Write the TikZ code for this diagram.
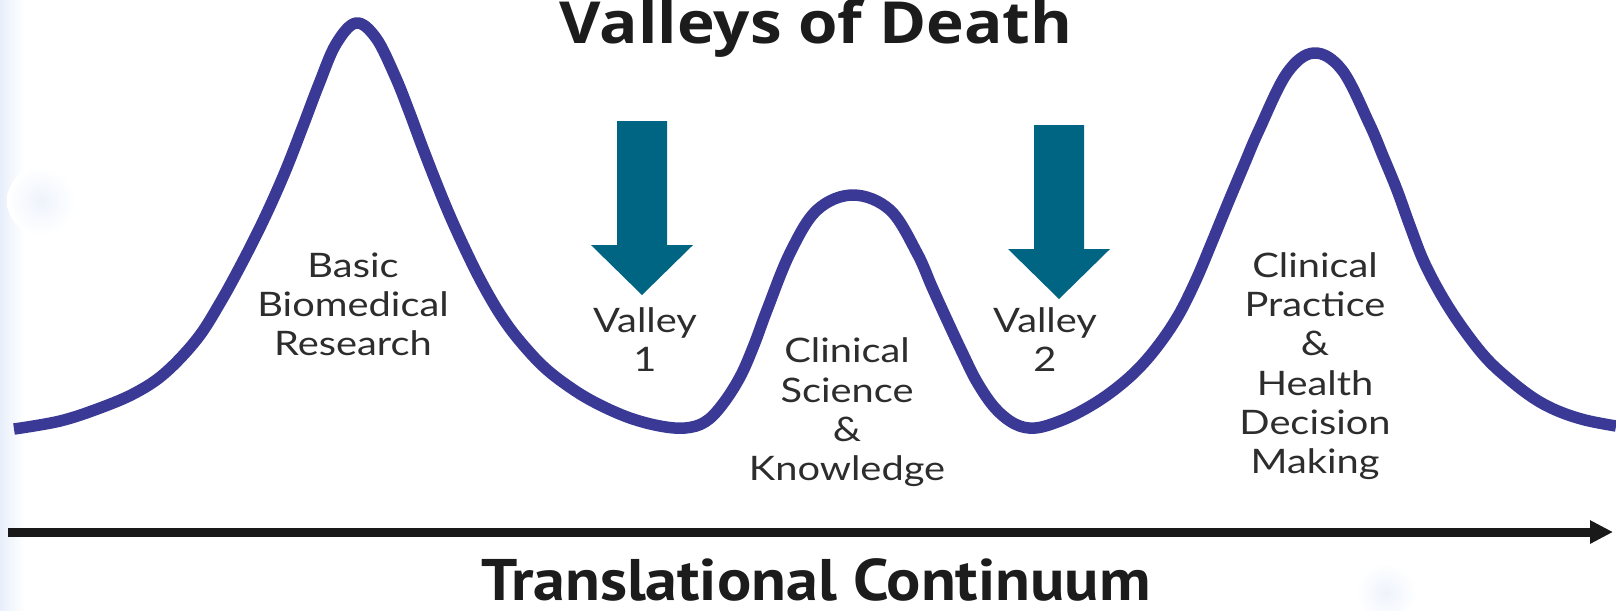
\documentclass[tikz,border=0pt]{standalone}
\usepackage{fontspec}
\setmainfont{Lato}
\newfontfamily\titlefont{Open Sans}
\newfontfamily\axisfont{PT Sans}
\usetikzlibrary{arrows.meta}
\definecolor{curveblue}{RGB}{58,58,150}
\definecolor{valleyteal}{RGB}{0,100,131}
\definecolor{labelgray}{RGB}{45,45,45}
\definecolor{edgeblue}{RGB}{232,239,251}
\definecolor{blobblue}{RGB}{238,243,252}
\tikzset{>={Triangle[length=2.3mm,width=2.2mm]},
  peaklabel/.style={font=\fontsize{9.6}{11.1}\selectfont,text=labelgray,
    align=center,anchor=base,inner sep=0pt,xscale=1.18},
  valley arrow/.style={fill=valleyteal},
  hills/.style={draw=curveblue,line width=1.15mm,line join=round}}

\begin{document}
\begin{tikzpicture}[x=0.1mm,y=-0.1mm]
\useasboundingbox (0,0) rectangle (1616,610);
% faint background
\shade[left color=edgeblue,right color=white] (0,0) rectangle (24,610);
\shade[inner color=blobblue,outer color=white] (41,201) circle (34);
\shade[inner color=blobblue,outer color=white] (1386,593) circle (30);
% the three hills
\draw[hills] plot[smooth,tension=0.6] coordinates {
  (14,429) (60,421) (100,408) (135,393) (165,373) (197,339) (220,303)
  (243,261) (265,217) (285,172) (303,126) (319,84) (336,44) (356,23)
  (376,38) (395,76) (409,111) (422,146) (436,182) (450,216) (466,251)
  (482,283) (500,314) (519,340) (545,368) (574,390) (600,405)
  (630,418) (660,426) (685,428) (705,422) (722,405) (740,377)
  (754,345) (767,310) (790,253) (817,210) (853,195) (890,210) (917,253)
  (932,287) (947,320) (962,352) (977,382) (995,408) (1015,424)
  (1035,428) (1060,421) (1085,409) (1110,393) (1135,372) (1157,347)
  (1178,316) (1196,280) (1212,242) (1228,203) (1244,165) (1259,130)
  (1287,73) (1314,53) (1342,70) (1369,123) (1383,156) (1397,190)
  (1410,226) (1424,262) (1443,298) (1464,330) (1487,359) (1511,381)
  (1535,399) (1558,411) (1585,420) (1616,426)};
% valley arrows
\foreach \x/\y in {642/121,1059/125}
  \fill[valley arrow] (\x-25,\y) -- (\x+25,\y) -- (\x+25,\y+124)
    -- (\x+51,\y+124) -- (\x,\y+174) -- (\x-51,\y+124)
    -- (\x-25,\y+124) -- cycle;
% labels (anchored on the last line)
\node[peaklabel] (basic) at (353,355) {Basic\\Biomedical\\Research};
\node[peaklabel] (valley1) at (645,371) {Valley\\1};
\node[peaklabel] (clinsci) at (847,480) {Clinical\\Science\\\&\\Knowledge};
\node[peaklabel] (valley2) at (1045,371) {Valley\\2};
\node[peaklabel] (clinprac) at (1315,473)
  {Clinical\\Practice\\\&\\Health\\Decision\\Making};
\node[anchor=base,inner sep=0pt,text={rgb,255:red,28;green,28;blue,28},
  font=\titlefont\bfseries\fontsize{16.5}{19}\selectfont,xscale=1.1]
  (title) at (816,43) {Valleys of Death};
% continuum axis
\coordinate (axisL) at (8,532);
\coordinate (axisR) at (1613,532);
\draw[->,line width=0.9mm,draw={rgb,255:red,25;green,25;blue,25}]
  (axisL) -- (axisR);
\node[anchor=base,inner sep=0pt,text={rgb,255:red,28;green,28;blue,28},
  font=\axisfont\bfseries\fontsize{16.7}{19}\selectfont,xscale=1.09]
  (continuum) at (816,600) {Translational Continuum};
\end{tikzpicture}
\end{document}
